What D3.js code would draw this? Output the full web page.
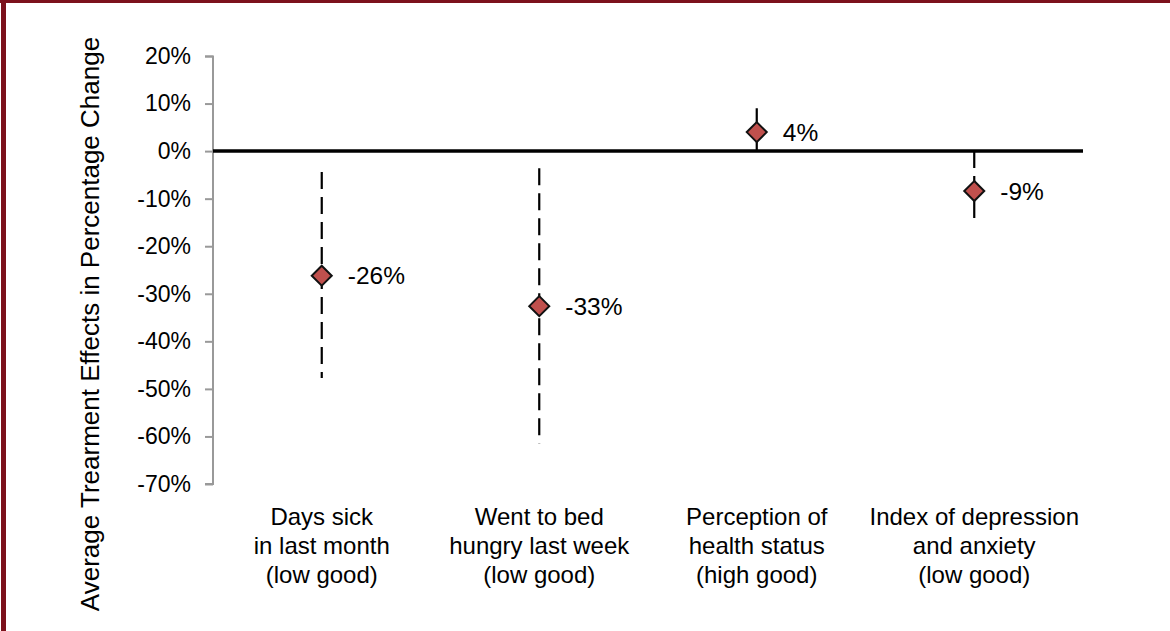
<!DOCTYPE html>
<html>
<head>
<meta charset="utf-8">
<script src="https://cdn.jsdelivr.net/npm/d3@7"></script>
<style>
  body { margin: 0; background: #fff; }
  svg { display: block; font-family: "Liberation Sans", Arial, sans-serif; }
</style>
</head>
<body>
<script>
// chart data
var categories = [
  ["Days sick", "in last month", "(low good)"],
  ["Went to bed", "hungry last week", "(low good)"],
  ["Perception of", "health status", "(high good)"],
  ["Index of depression", "and anxiety", "(low good)"]
];
var effects = [-26.2, -32.6, 4.0, -8.4];
var effectLabels = ["-26%", "-33%", "4%", "-9%"];
var ciLow = [-47.7, -61.5, -0.2, -15.3];
var ciHigh = [-4.4, -3.6, 9.0, 0.0];
var yTicks = [20, 10, 0, -10, -20, -30, -40, -50, -60, -70];

var W = 1170, H = 631;
var margin = {top: 56, right: 87, bottom: 147, left: 213},
    width = W - margin.left - margin.right,
    height = H - margin.top - margin.bottom;

var svg = d3.select("body").append("svg")
    .attr("width", W)
    .attr("height", H);

// frame
svg.append("rect").attr("x", 0).attr("y", 0).attr("width", W).attr("height", 3).style("fill", "#7c111c");
svg.append("rect").attr("x", 1).attr("y", 0).attr("width", 5).attr("height", H).style("fill", "#7c111c");

var g = svg.append("g").attr("transform", "translate(" + margin.left + "," + margin.top + ")");

var x = d3.scaleBand().domain(d3.range(categories.length)).range([0, width]);
var y = d3.scaleLinear().domain([20, -70]).range([0, height]);

// y axis
var yAxis = g.append("g")
    .call(d3.axisLeft(y).tickValues(yTicks).tickSize(8).tickPadding(14).tickFormat(function(d){return d + "%"}));
yAxis.select(".domain").style("stroke", "#999").style("stroke-width", 2).attr("d", "M-8,0.5H0V" + height + "H-8");
yAxis.selectAll(".tick line").style("stroke", "#999").style("stroke-width", 2);
yAxis.selectAll(".tick text").style("font-size", "23px").style("fill", "#000").style("font-family", "Liberation Sans, Arial, sans-serif");

// zero line
g.append("line")
    .attr("x1", 0).attr("x2", width)
    .attr("y1", y(0)).attr("y2", y(0))
    .style("stroke", "#000").style("stroke-width", 3.5);

// error bars (dashed)
g.selectAll(".ci")
    .data(effects)
    .enter().append("line")
    .attr("class", "ci")
    .attr("x1", function(d, i){return x(i) + x.bandwidth() / 2})
    .attr("x2", function(d, i){return x(i) + x.bandwidth() / 2})
    .attr("y1", function(d, i){return y(ciHigh[i])})
    .attr("y2", function(d, i){return y(ciLow[i])})
    .style("stroke", "#000")
    .style("stroke-width", 2.2)
    .style("stroke-dasharray", "17,8");

// markers
g.selectAll(".pt")
    .data(effects)
    .enter().append("path")
    .attr("class", "pt")
    .attr("d", "M0,-10L10,0L0,10L-10,0Z")
    .attr("transform", function(d, i){return "translate(" + (x(i) + x.bandwidth() / 2) + "," + y(d) + ")"})
    .style("fill", "#c0504d")
    .style("stroke", "#111")
    .style("stroke-width", 2);

// point labels
g.selectAll(".lbl")
    .data(effects)
    .enter().append("text")
    .attr("class", "lbl")
    .attr("x", function(d, i){return x(i) + x.bandwidth() / 2 + 26})
    .attr("y", function(d){return y(d)})
    .attr("dy", "0.35em")
    .style("font-size", "24.5px")
    .text(function(d, i){return effectLabels[i]});

// category labels
var cat = g.selectAll(".cat")
    .data(categories)
    .enter().append("text")
    .attr("class", "cat")
    .attr("text-anchor", "middle")
    .attr("x", function(d, i){return x(i) + x.bandwidth() / 2})
    .attr("y", height + 41)
    .style("font-size", "24px");
cat.selectAll("tspan")
    .data(function(d){return d})
    .enter().append("tspan")
    .attr("x", function(){return d3.select(this.parentNode).attr("x")})
    .attr("dy", function(d, j){return j === 0 ? 0 : 29})
    .text(function(d){return d});

// y title
svg.append("text")
    .attr("transform", "translate(99," + 324 + ") rotate(-90)")
    .attr("text-anchor", "middle")
    .style("font-size", "26px")
    .text("Average Trearment Effects in Percentage Change");
</script>
</body>
</html>
